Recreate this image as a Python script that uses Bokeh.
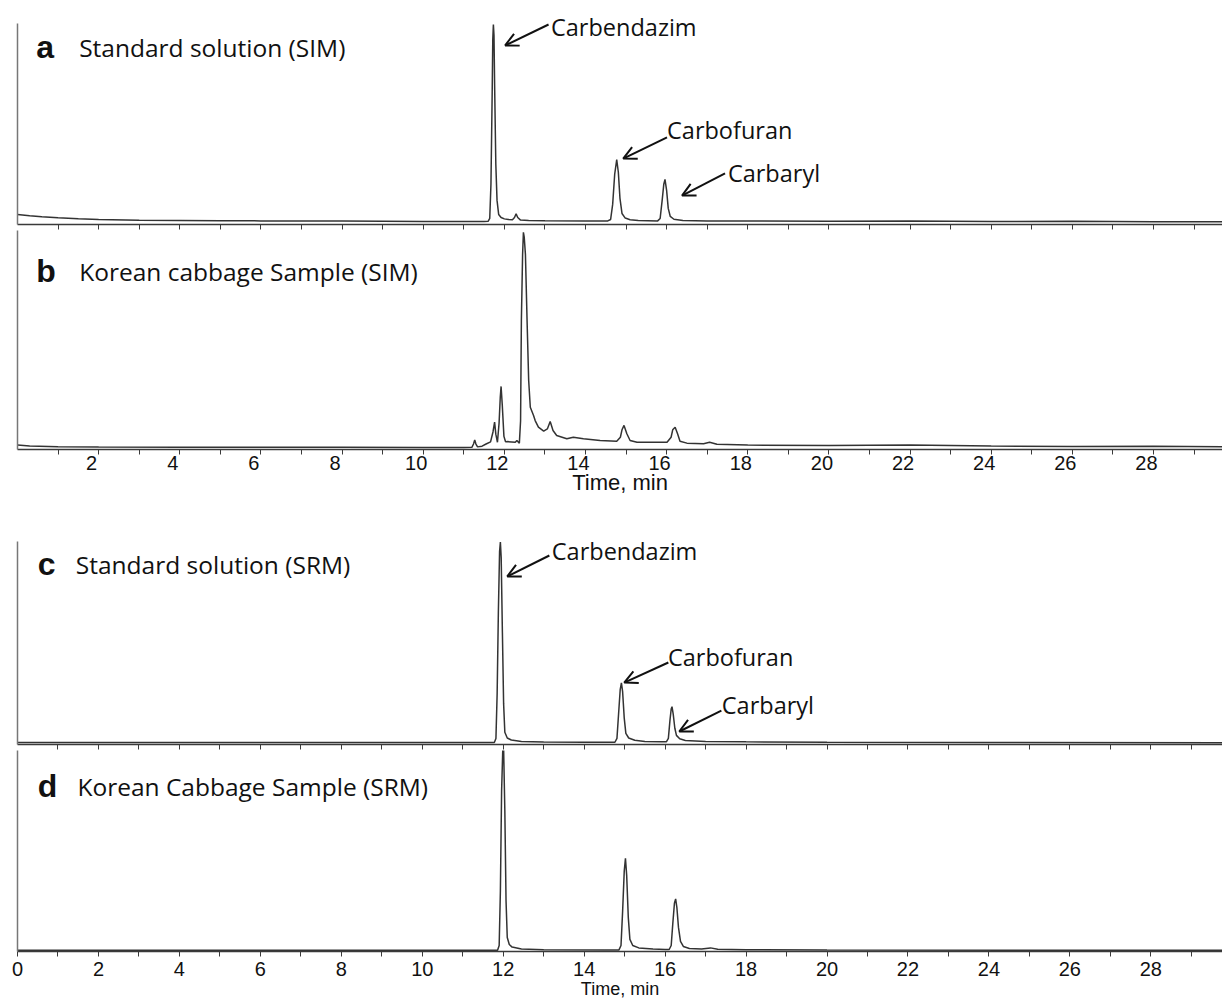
from bokeh.plotting import figure
from bokeh.models import (Range1d, FixedTicker, LinearAxis, Label, Arrow, OpenHead,
                          ColumnDataSource)
from bokeh.layouts import column
from bokeh.embed import file_html
from bokeh.resources import INLINE

# ---------------- data (time in min, relative intensity 0-100 of panel) ----------------
t_a = [0.0, 0.3, 0.6, 1.0, 1.5, 2.0, 3.0, 4.0, 5.0, 6.0, 7.0, 8.0, 9.0, 10.0, 11.0, 11.5,
       11.60, 11.64, 11.67, 11.70, 11.715, 11.73, 11.745, 11.76, 11.79, 11.82, 11.86, 11.92,
       12.00, 12.10, 12.20, 12.25, 12.29, 12.33, 12.40, 12.6, 13.0, 14.0,
       14.55, 14.62, 14.67, 14.72, 14.77, 14.81, 14.85, 14.90, 14.98, 15.10, 15.30,
       15.78, 15.84, 15.89, 15.93, 15.96, 16.00, 16.04, 16.09, 16.18, 16.40,
       17.0, 18.0, 20.0, 22.0, 24.0, 26.0, 28.0, 29.7]
i_a = [5.0, 4.4, 3.9, 3.3, 2.8, 2.5, 2.1, 2.0, 1.9, 1.8, 1.8, 1.7, 1.6, 1.5, 1.5, 1.5,
       1.6, 3.0, 20, 65, 92, 99.5, 94, 70, 30, 12, 5.0, 3.5,
       2.8, 2.5, 2.4, 3.5, 5.3, 3.5, 2.2, 2.0, 1.9, 1.8,
       1.8, 2.5, 10, 25, 32.3, 26, 13, 5.5, 3.2, 2.4, 2.0,
       1.8, 3.0, 12, 20, 22.4, 17, 8, 4.0, 2.6, 2.0,
       1.8, 1.7, 1.6, 1.7, 1.5, 1.6, 1.4, 1.4]

t_b = [0.0, 0.3, 1.0, 2.0, 4.0, 6.0, 8.0, 10.0, 11.0,
       11.20, 11.24, 11.27, 11.30, 11.34, 11.45, 11.55,
       11.66, 11.72, 11.76, 11.79, 11.83,
       11.87, 11.90, 11.92, 11.95, 11.99, 12.03,
       12.06, 12.27, 12.31, 12.37,
       12.40, 12.42, 12.45, 12.47, 12.49, 12.52, 12.56, 12.60, 12.64,
       12.72, 12.76, 12.84, 12.97, 13.06, 13.13, 13.20, 13.29,
       13.54, 13.70, 13.95, 14.36, 14.77,
       14.86, 14.90, 14.95, 15.02, 15.10, 15.27,
       16.01, 16.11, 16.15, 16.21, 16.27, 16.33, 16.50,
       16.91, 17.06, 17.24, 18.0, 20.0, 22.0, 24.0, 26.0, 28.0, 29.7]
i_b = [2.0, 1.6, 1.3, 1.1, 1.0, 1.0, 1.0, 0.9, 0.9,
       1.0, 2.5, 4.4, 2.5, 1.2, 1.5, 2.5,
       3.5, 8.0, 12.5, 7.0, 3.3,
       12, 24, 28.8, 20, 6.0, 3.5,
       3.6, 3.3, 4.1, 2.9,
       13, 59, 89, 99.2, 97, 89, 59, 31.5, 19.3,
       15.5, 13.2, 10.2, 8.4, 9.4, 12.8, 8.7, 6.4,
       4.9, 5.6, 4.9, 4.1, 3.8,
       5.6, 9.0, 11.0, 7.2, 4.1, 3.3,
       3.3, 5.6, 9.0, 10.2, 7.2, 3.8, 2.9,
       2.6, 3.3, 2.4, 2.0, 1.8, 2.0, 1.6, 1.4, 1.5, 1.2]

t_c = [0.0, 2.0, 5.0, 8.0, 11.0,
       11.78, 11.82, 11.85, 11.88, 11.91, 11.93, 11.95, 11.98, 12.01, 12.04,
       12.10, 12.20, 12.45, 13.0, 14.0,
       14.76, 14.81, 14.85, 14.89, 14.92, 14.95, 14.99, 15.03,
       15.10, 15.25, 15.50, 15.90,
       16.03, 16.08, 16.12, 16.15, 16.17, 16.20, 16.24, 16.28,
       16.36, 16.50, 17.0, 18.0, 20.0, 24.0, 29.8]
i_c = [1.0, 1.0, 1.0, 1.0, 1.0,
       1.0, 3.0, 25, 65, 95, 99.7, 92, 55, 20, 6.0,
       3.2, 2.2, 1.5, 1.2, 1.1,
       1.1, 3.0, 15, 27, 30.4, 26, 13, 5.5,
       3.2, 2.1, 1.5, 1.3,
       1.3, 3.0, 12, 17.5, 18.6, 15, 8.0, 4.5,
       2.8, 2.0, 1.5, 1.3, 1.1, 1.0, 0.9]

t_d = [0.0, 3.0, 6.0, 9.0, 11.0,
       11.86, 11.90, 11.93, 11.96, 11.99, 12.01, 12.04, 12.07, 12.10, 12.15, 12.22, 12.45,
       13.0, 14.5,
       14.86, 14.91, 14.95, 14.99, 15.02, 15.05, 15.09, 15.13, 15.20, 15.35, 15.70, 16.0,
       16.10, 16.15, 16.19, 16.23, 16.26, 16.29, 16.33, 16.38, 16.45, 16.60,
       16.90, 17.12, 17.30, 18.0, 20.0, 29.8]
i_d = [0.6, 0.6, 0.6, 0.6, 0.6,
       0.6, 3.0, 30, 80, 101, 101, 70, 25, 7.0, 3.5, 2.2, 1.2,
       0.9, 0.8,
       0.8, 3.0, 20, 40, 46.4, 38, 17, 6.0, 3.0, 1.8, 1.2, 1.0,
       1.0, 3.0, 14, 24, 26.2, 22, 12, 5.0, 2.5, 1.5,
       1.2, 1.8, 1.1, 0.9, 0.7, 0.6]

titles = ["Standard solution (SIM)", "Korean cabbage Sample (SIM)",
          "Standard solution (SRM)", "Korean Cabbage Sample (SRM)"]
letters = ["a", "b", "c", "d"]
compounds = ["Carbendazim", "Carbofuran", "Carbaryl"]

top_major = [2, 4, 6, 8, 10, 12, 14, 16, 18, 20, 22, 24, 26, 28]
bot_major = [0, 2, 4, 6, 8, 10, 12, 14, 16, 18, 20, 22, 24, 26, 28]
minor = [1, 3, 5, 7, 9, 11, 13, 15, 17, 19, 21, 23, 25, 27, 29]
all_ticks = list(range(1, 30))

# ---------------- styling ----------------
TRACE = "#333333"
AXIS = "#3a3a3a"
YAXIS = "#777777"
TXT = "#111111"
TEXT_FONT = "Open Sans"
TICK_FONT = "Liberation Sans"
W = 1222
TOP_XEND = (W - 17) / 40.57
BOT_XEND = (W - 16) / 40.51


def make_fig(height, btop, bbot, bleft, xend, yend=100):
    p = figure(width=W, height=height, output_backend="svg", toolbar_location=None,
               x_range=Range1d(0, xend), y_range=Range1d(0, yend),
               min_border_top=btop, min_border_bottom=bbot,
               min_border_left=bleft, min_border_right=0)
    p.grid.visible = False
    p.outline_line_color = None
    p.background_fill_color = "white"
    p.border_fill_color = "white"
    ya = p.yaxis[0]
    ya.ticker = FixedTicker(ticks=[])
    ya.bounds = (0, 100)
    ya.axis_line_color = YAXIS
    ya.axis_line_width = 1.5
    ya.major_tick_out = 0
    ya.minor_tick_out = 0
    ya.major_label_standoff = 0
    xa = p.xaxis[0]
    # tick marks only (no labels): every minute drawn as a minor tick
    xa.ticker = FixedTicker(ticks=[], minor_ticks=all_ticks)
    xa.axis_line_color = AXIS
    xa.axis_line_width = 1.5
    xa.major_tick_line_color = AXIS
    xa.minor_tick_line_color = AXIS
    xa.major_tick_out = 5
    xa.major_tick_in = 0
    xa.minor_tick_out = 5
    xa.minor_tick_in = 0
    xa.major_label_standoff = 0
    return p


def add_title(p, letter, text, x_letter, x_text, y):
    p.add_layout(Label(x=x_letter, y=y, text=letter, text_font=TICK_FONT,
                       text_font_size="32px", text_font_style="bold", text_color=TXT,
                       text_baseline="middle", text_align="left"))
    p.add_layout(Label(x=x_text, y=y, text=text, text_font=TEXT_FONT,
                       text_font_size="24.5px", text_color=TXT,
                       text_baseline="middle", text_align="left"))


def add_note(p, text, tx, ty, x0, y0, x1, y1):
    p.add_layout(Label(x=tx, y=ty, text=text, text_font=TEXT_FONT,
                       text_font_size="23.5px", text_color=TXT,
                       text_baseline="middle", text_align="left"))
    p.add_layout(Arrow(x_start=x0, y_start=y0, x_end=x1, y_end=y1,
                       line_color=TXT, line_width=2,
                       end=OpenHead(size=13, line_width=2, line_color=TXT)))


# ---------------- panel a ----------------
# frame reaches the canvas top so the label above the tallest peak is not clipped;
# the y axis line is bounded to 0-100 so it starts where the panel starts
pa = make_fig(230, 0, 6, 17, TOP_XEND, yend=100 * 224 / 201)
pa.line("t", "i", source=ColumnDataSource(dict(t=t_a, i=i_a)), line_color=TRACE, line_width=1.5)
add_title(pa, letters[0], titles[0], 0.46, 1.52, 88.1)
add_note(pa, compounds[0], 13.15, 98.5, 13.09, 99.5, 12.02, 89.1)
add_note(pa, compounds[1], 16.01, 46.8, 16.01, 43.3, 14.93, 32.8)
add_note(pa, compounds[2], 17.51, 25.4, 17.44, 25.4, 16.38, 14.4)

# ---------------- panel b ----------------
pb = make_fig(270, 0, 51, 17, TOP_XEND)
pb.line("t", "i", source=ColumnDataSource(dict(t=t_b, i=i_b)), line_color=TRACE, line_width=1.5)
add_title(pb, letters[1], titles[1], 0.46, 1.52, 81.3)
off = 7 / 40.57
pb.extra_x_ranges = {"lab": Range1d(off, TOP_XEND + off)}
lab = LinearAxis(x_range_name="lab", ticker=FixedTicker(ticks=top_major, minor_ticks=[]),
                 axis_line_color=None, major_tick_line_color=None, minor_tick_line_color=None,
                 major_tick_out=0, major_tick_in=0, minor_tick_out=0, minor_tick_in=0,
                 major_label_standoff=1, major_label_text_font=TICK_FONT,
                 major_label_text_font_size="20px", major_label_text_color=TXT,
                 axis_label="Time, min", axis_label_text_font=TICK_FONT,
                 axis_label_text_font_size="22px", axis_label_text_font_style="normal",
                 axis_label_text_color=TXT, axis_label_standoff=-3)
pb.add_layout(lab, "below")

# ---------------- panel c ----------------
pc = make_fig(250, 41, 6, 16, BOT_XEND)
pc.line("t", "i", source=ColumnDataSource(dict(t=t_c, i=i_c)), line_color=TRACE, line_width=1.5)
add_title(pc, letters[2], titles[2], 0.50, 1.44, 88.7)
add_note(pc, compounds[0], 13.20, 95.1, 13.14, 93.1, 12.10, 82.8)
add_note(pc, compounds[1], 16.07, 42.9, 16.08, 40.4, 14.99, 30.5)
add_note(pc, compounds[2], 17.40, 19.7, 17.39, 16.7, 16.35, 6.4)

# ---------------- panel d ----------------
pd_ = make_fig(251, 0, 48, 16, BOT_XEND)
pd_.line("t", "i", source=ColumnDataSource(dict(t=t_d, i=i_d)), line_color=TRACE, line_width=1.5)
add_title(pd_, letters[3], titles[3], 0.50, 1.48, 82.2)
xd = pd_.xaxis[0]
xd.ticker = FixedTicker(ticks=bot_major, minor_ticks=minor)
xd.major_label_text_font_size = "20px"
xd.major_label_text_font = TICK_FONT
xd.major_label_text_color = TXT
xd.major_label_standoff = 5
xd.axis_label = "Time, min"
xd.axis_label_text_font = TICK_FONT
xd.axis_label_text_font_size = "18px"
xd.axis_label_text_font_style = "normal"
xd.axis_label_text_color = TXT
xd.axis_label_standoff = 0

layout = column(pa, pb, pc, pd_, spacing=0)
open("out.html", "w").write(file_html(layout, INLINE, title="Chromatograms"))
